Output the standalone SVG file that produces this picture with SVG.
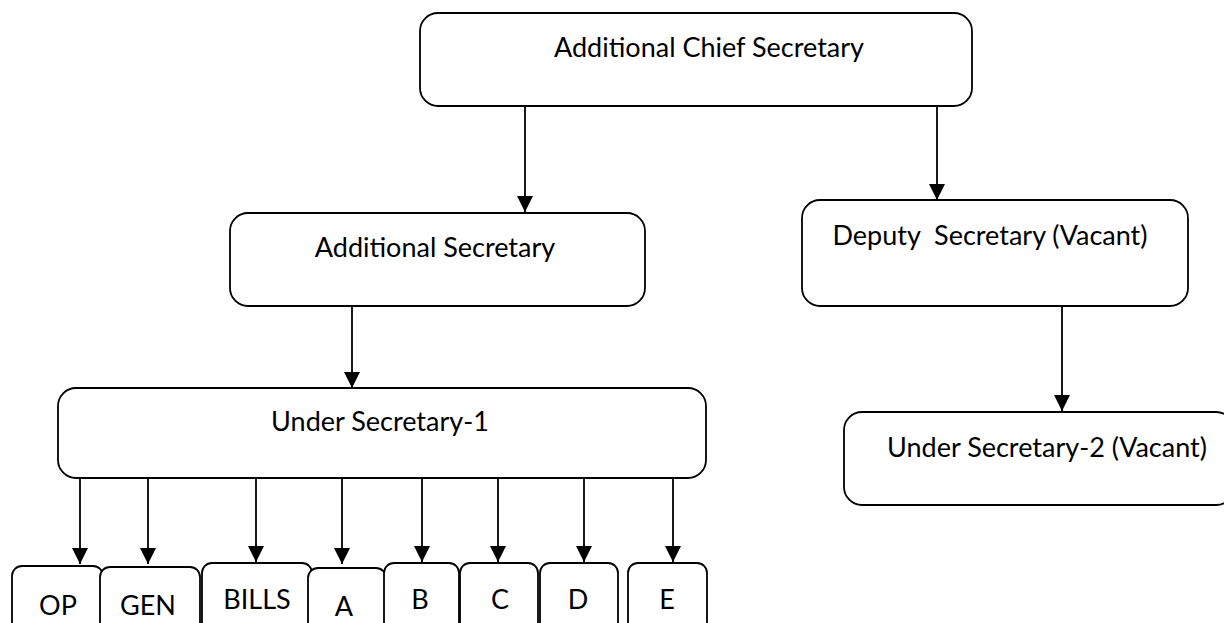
<svg xmlns="http://www.w3.org/2000/svg" width="1224" height="623" viewBox="0 0 1224 623">
<defs>
<marker id="ah" viewBox="0 0 16 16" refX="16" refY="8" markerWidth="16" markerHeight="16" markerUnits="userSpaceOnUse" orient="auto">
<path d="M0,0 L16,8 L0,16 Z" fill="#000"/>
</marker>
</defs>
<style>
.box{fill:#fff;stroke:#000;stroke-width:1.8}
.t{font-family:Lato,"Liberation Sans",sans-serif;font-size:27px;fill:#000;text-anchor:middle}
.c{stroke:#000;stroke-width:1.8;fill:none}
</style>
<rect width="1224" height="623" fill="#fff"/>
<g id="acs"><rect class="box" x="420" y="13" width="552" height="93" rx="18"/><text class="t" x="709" y="57">Additional Chief Secretary</text></g>
<g id="as"><rect class="box" x="230" y="213" width="415" height="93" rx="18"/><text class="t" x="435" y="257">Additional Secretary</text></g>
<g id="ds"><rect class="box" x="802" y="200" width="386" height="106" rx="18"/><text class="t" x="990" y="245" xml:space="preserve">Deputy  Secretary (Vacant)</text></g>
<g id="us2"><rect class="box" x="844" y="412" width="390" height="93" rx="18"/><text class="t" x="1047" y="457">Under Secretary-2 (Vacant)</text></g>
<g id="us1"><rect class="box" x="58" y="388" width="648" height="90" rx="18"/><text class="t" x="380" y="431">Under Secretary-1</text></g>
<g id="op"><rect class="box" x="12" y="566" width="91" height="70" rx="10"/><text class="t" x="58" y="615">OP</text></g>
<g id="gen"><rect class="box" x="100" y="567" width="100" height="70" rx="10"/><text class="t" x="148" y="615">GEN</text></g>
<g id="bills"><rect class="box" x="202" y="563" width="110" height="70" rx="10"/><text class="t" x="257" y="609">BILLS</text></g>
<g id="a"><rect class="box" x="308" y="568" width="78" height="70" rx="10"/><text class="t" x="344" y="616">A</text></g>
<g id="b"><rect class="box" x="384" y="563" width="75" height="70" rx="10"/><text class="t" x="420" y="609">B</text></g>
<g id="c"><rect class="box" x="460" y="563" width="78" height="70" rx="10"/><text class="t" x="500" y="609">C</text></g>
<g id="d"><rect class="box" x="540" y="563" width="78" height="70" rx="10"/><text class="t" x="578" y="609">D</text></g>
<g id="e"><rect class="box" x="628" y="563" width="79" height="70" rx="10"/><text class="t" x="667" y="609">E</text></g>
<g id="connectors">
<line class="c" x1="525" y1="106" x2="525" y2="212" marker-end="url(#ah)"/>
<line class="c" x1="937" y1="106" x2="937" y2="200" marker-end="url(#ah)"/>
<line class="c" x1="352" y1="306" x2="352" y2="388" marker-end="url(#ah)"/>
<line class="c" x1="1062" y1="306" x2="1062" y2="411" marker-end="url(#ah)"/>
<line class="c" x1="80" y1="478" x2="80" y2="564" marker-end="url(#ah)"/>
<line class="c" x1="148" y1="478" x2="148" y2="564" marker-end="url(#ah)"/>
<line class="c" x1="256" y1="478" x2="256" y2="562" marker-end="url(#ah)"/>
<line class="c" x1="342" y1="478" x2="342" y2="564" marker-end="url(#ah)"/>
<line class="c" x1="422" y1="478" x2="422" y2="562" marker-end="url(#ah)"/>
<line class="c" x1="498" y1="478" x2="498" y2="562" marker-end="url(#ah)"/>
<line class="c" x1="584" y1="478" x2="584" y2="562" marker-end="url(#ah)"/>
<line class="c" x1="673" y1="478" x2="673" y2="562" marker-end="url(#ah)"/>
</g>
</svg>
